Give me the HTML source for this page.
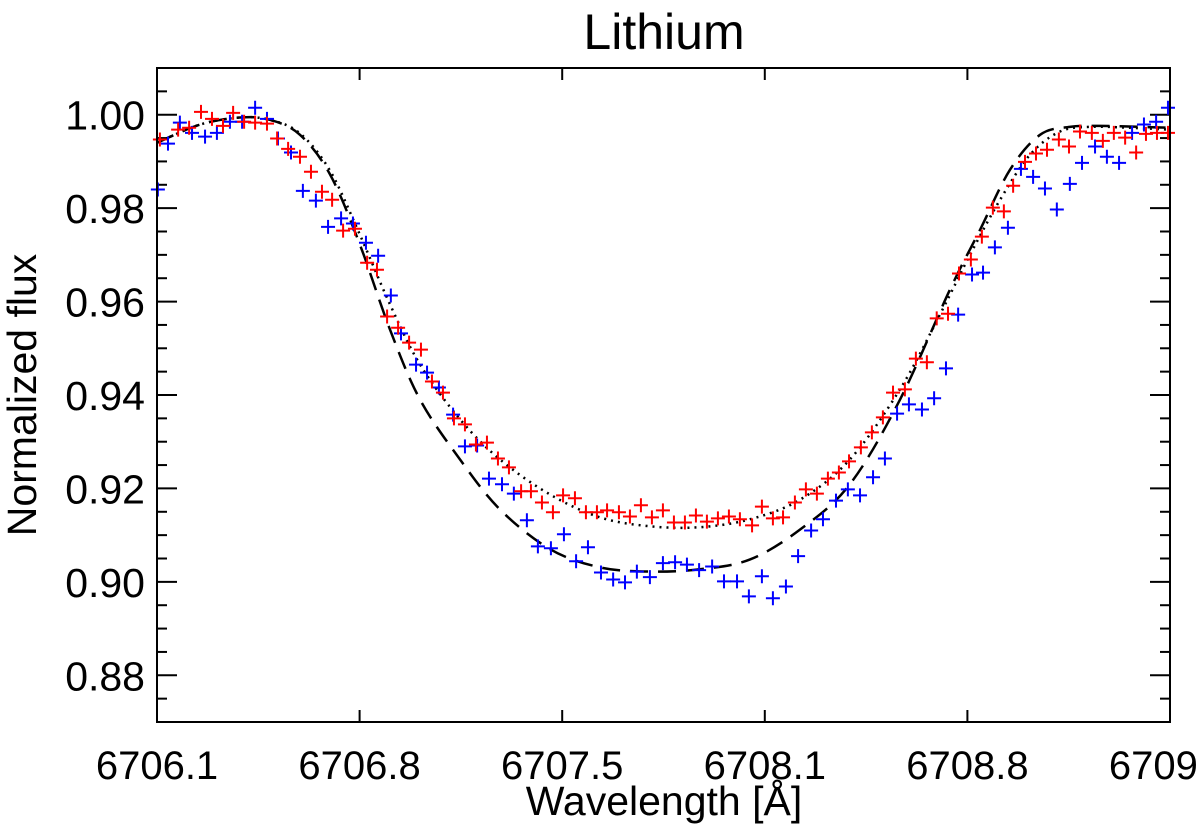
<!DOCTYPE html>
<html><head><meta charset="utf-8"><style>
body{margin:0;background:#fff;}
svg{display:block;font-family:"Liberation Sans",Arial,sans-serif;}
</style></head><body>
<svg id="chart" width="1200" height="831" viewBox="0 0 1200 831">
<text x="664" y="49" font-size="50" text-anchor="middle">Lithium</text>
<text x="664" y="815" font-size="41" text-anchor="middle">Wavelength [Å]</text>
<text transform="translate(36,395) rotate(-90)" font-size="41" text-anchor="middle">Normalized flux</text>
<g id="ticks"></g>
<g id="curves"></g>
<g id="points"></g>
<rect x="157" y="68" width="1013" height="654" fill="none" stroke="#000" stroke-width="2"/>
</svg>
<script>
const xTickVals=[6706.1,6706.8,6707.5,6708.2,6708.9,6709.6];
const xTickLabels=["6706.1","6706.8","6707.5","6708.1","6708.8","6709.6"];
const yTickVals=[0.88,0.90,0.92,0.94,0.96,0.98,1.00];
const yTickLabels=["0.88","0.90","0.92","0.94","0.96","0.98","1.00"];
const redWl=[6706.110,6706.173,6706.211,6706.252,6706.290,6706.328,6706.363,6706.401,6706.439,6706.480,6706.515,6706.553,6706.594,6706.632,6706.670,6706.705,6706.743,6706.784,6706.826,6706.860,6706.895,6706.933,6706.971,6707.012,6707.050,6707.088,6707.126,6707.164,6707.202,6707.240,6707.278,6707.316,6707.358,6707.392,6707.430,6707.468,6707.503,6707.544,6707.582,6707.620,6707.655,6707.696,6707.734,6707.772,6707.810,6707.848,6707.886,6707.924,6707.962,6708.000,6708.038,6708.076,6708.114,6708.156,6708.190,6708.228,6708.263,6708.304,6708.342,6708.380,6708.418,6708.456,6708.491,6708.532,6708.570,6708.608,6708.643,6708.684,6708.722,6708.760,6708.794,6708.833,6708.871,6708.912,6708.950,6708.988,6709.026,6709.058,6709.099,6709.137,6709.175,6709.216,6709.251,6709.289,6709.330,6709.368,6709.406,6709.445,6709.483,6709.517,6709.555,6709.593];
const redFlux=[0.9947,0.9968,0.9972,1.0006,0.9991,0.9976,1.0004,0.9985,0.9983,0.9981,0.9949,0.9927,0.9910,0.9878,0.9835,0.9818,0.9752,0.9756,0.9683,0.9668,0.9568,0.9544,0.9512,0.9497,0.9429,0.9405,0.9350,0.9337,0.9294,0.9298,0.9264,0.9245,0.9194,0.9194,0.9170,0.9149,0.9185,0.9179,0.9149,0.9149,0.9153,0.9149,0.9140,0.9164,0.9138,0.9153,0.9127,0.9127,0.9142,0.9129,0.9136,0.9140,0.9134,0.9121,0.9161,0.9136,0.9138,0.9170,0.9198,0.9189,0.9221,0.9234,0.9258,0.9288,0.9320,0.9352,0.9405,0.9412,0.9478,0.9470,0.9564,0.9574,0.9660,0.9690,0.9739,0.9801,0.9793,0.9848,0.9899,0.9917,0.9925,0.9947,0.9932,0.9964,0.9961,0.9944,0.9961,0.9951,0.9919,0.9959,0.9961,0.9961];
const blueWl=[6706.103,6706.138,6706.179,6706.221,6706.266,6706.307,6706.352,6706.394,6706.439,6706.480,6706.518,6706.563,6706.604,6706.649,6706.691,6706.736,6706.777,6706.822,6706.864,6706.908,6706.943,6706.995,6707.033,6707.074,6707.123,6707.164,6707.206,6707.247,6707.292,6707.333,6707.378,6707.416,6707.461,6707.506,6707.548,6707.589,6707.634,6707.676,6707.717,6707.758,6707.803,6707.848,6707.890,6707.931,6707.973,6708.018,6708.059,6708.104,6708.145,6708.190,6708.228,6708.273,6708.315,6708.360,6708.401,6708.446,6708.487,6708.529,6708.574,6708.615,6708.657,6708.698,6708.743,6708.785,6708.826,6708.868,6708.916,6708.954,6708.995,6709.040,6709.085,6709.127,6709.168,6709.209,6709.254,6709.296,6709.341,6709.382,6709.424,6709.469,6709.510,6709.552,6709.593];
const blueFlux=[0.9840,0.9938,0.9983,0.9961,0.9953,0.9961,0.9985,0.9985,1.0015,0.9991,0.9949,0.9919,0.9837,0.9816,0.9760,0.9778,0.9767,0.9726,0.9698,0.9613,0.9532,0.9465,0.9448,0.9416,0.9358,0.9290,0.9292,0.9221,0.9209,0.9189,0.9132,0.9076,0.9072,0.9102,0.9044,0.9074,0.9020,0.9005,0.8999,0.9022,0.9010,0.9040,0.9042,0.9037,0.9025,0.9033,0.9001,0.9001,0.8969,0.9012,0.8965,0.8990,0.9055,0.9110,0.9134,0.9174,0.9198,0.9185,0.9224,0.9264,0.9360,0.9380,0.9369,0.9393,0.9457,0.9572,0.9658,0.9662,0.9716,0.9758,0.9884,0.9867,0.9842,0.9797,0.9852,0.9897,0.9932,0.9910,0.9897,0.9961,0.9979,0.9985,1.0015];
const dashWl=[6706.100,6706.249,6706.387,6706.490,6706.594,6706.698,6706.801,6706.905,6707.009,6707.147,6707.285,6707.458,6707.631,6707.803,6707.976,6708.149,6708.322,6708.494,6708.667,6708.840,6708.944,6709.047,6709.151,6709.254,6709.358,6709.496,6709.600];
const dashFlux=[0.9940,0.9979,0.9994,0.9989,0.9957,0.9872,0.9722,0.9540,0.9390,0.9262,0.9155,0.9070,0.9031,0.9022,0.9027,0.9048,0.9112,0.9209,0.9390,0.9626,0.9754,0.9882,0.9957,0.9974,0.9976,0.9974,0.9972];
const dotWl=[6706.100,6706.249,6706.387,6706.490,6706.594,6706.698,6706.801,6706.905,6707.009,6707.147,6707.285,6707.458,6707.631,6707.803,6707.976,6708.149,6708.322,6708.494,6708.667,6708.805,6708.909,6709.013,6709.116,6709.220,6709.324,6709.462,6709.600];
const dotFlux=[0.9940,0.9979,0.9994,0.9989,0.9960,0.9880,0.9743,0.9594,0.9465,0.9348,0.9262,0.9187,0.9138,0.9119,0.9117,0.9134,0.9176,0.9262,0.9412,0.9572,0.9700,0.9818,0.9914,0.9964,0.9974,0.9972,0.9968];

const X0=157,X1=1170,Y0=722,Y1=68,XMIN=6706.1,XMAX=6709.6,YMIN=0.87,YMAX=1.01;
function sx(v){return X0+(v-XMIN)/(XMAX-XMIN)*(X1-X0);}
function sy(v){return Y0-(v-YMIN)/(YMAX-YMIN)*(Y0-Y1);}
const NS="http://www.w3.org/2000/svg";
function mk(t,a,p){const e=document.createElementNS(NS,t);for(const k in a)e.setAttribute(k,a[k]);p.appendChild(e);return e;}
const tg=document.getElementById('ticks');
xTickVals.forEach((v,i)=>{
  const x=sx(v);
  const t1=mk('line',{x1:x,x2:x,y1:Y0,y2:Y0-12,stroke:'#000','stroke-width':2},tg);
  
  
  const t2=mk('line',{x1:x,x2:x,y1:Y1,y2:Y1+12,stroke:'#000','stroke-width':2},tg);
  
  
  const lb=mk('text',{x:x,y:779,'font-size':40,'text-anchor':'middle'},tg);
  lb.textContent=xTickLabels[i];
  
  
});
for(let v=YMIN;v<=YMAX+1e-9;v+=0.005){
  const major=Math.abs(Math.round(v*100)/100-v)<1e-6 && Math.round(v*100)%2===0;
  const y=sy(v),L=major?20:10;
  const a=mk('line',{x1:X0,x2:X0+L,y1:y,y2:y,stroke:'#000','stroke-width':2},tg);
  
  
  const b=mk('line',{x1:X1,x2:X1-L,y1:y,y2:y,stroke:'#000','stroke-width':2},tg);
  
  
}
yTickVals.forEach((v,i)=>{
  const lb=mk('text',{x:145,y:sy(v)+15,'font-size':41,'text-anchor':'end'},tg);
  lb.textContent=yTickLabels[i];
  
  
});
function smooth(xs,ys){
  const P=xs.map((x,i)=>[sx(x),sy(ys[i])]);
  let d='M'+P[0][0]+','+P[0][1];
  for(let i=0;i<P.length-1;i++){
    const p0=P[Math.max(0,i-1)],p1=P[i],p2=P[i+1],p3=P[Math.min(P.length-1,i+2)];
    const c1=[p1[0]+(p2[0]-p0[0])/6,p1[1]+(p2[1]-p0[1])/6];
    const c2=[p2[0]-(p3[0]-p1[0])/6,p2[1]-(p3[1]-p1[1])/6];
    d+='C'+c1+' '+c2+' '+p2;
  }
  return d;
}
const cg=document.getElementById('curves');
const dl=mk('path',{d:smooth(dashWl,dashFlux),fill:'none',stroke:'#000','stroke-width':2.5,'stroke-dasharray':'18 10'},cg);


const dt=mk('path',{d:smooth(dotWl,dotFlux),fill:'none',stroke:'#000','stroke-width':2.5,'stroke-dasharray':'2 5'},cg);


const pg=document.getElementById('points');
function plus(xs,ys,color,name){
  xs.forEach((w,i)=>{
    const x=sx(w),y=sy(ys[i]);
    const p=mk('path',{d:`M${x-7},${y}H${x+7}M${x},${y-7}V${y+7}`,stroke:color,'stroke-width':2,fill:'none'},pg);
    
    
  });
}
plus(blueWl,blueFlux,'#0000ff','blue-point');
plus(redWl,redFlux,'#ff0000','red-point');
</script>
</body></html>
